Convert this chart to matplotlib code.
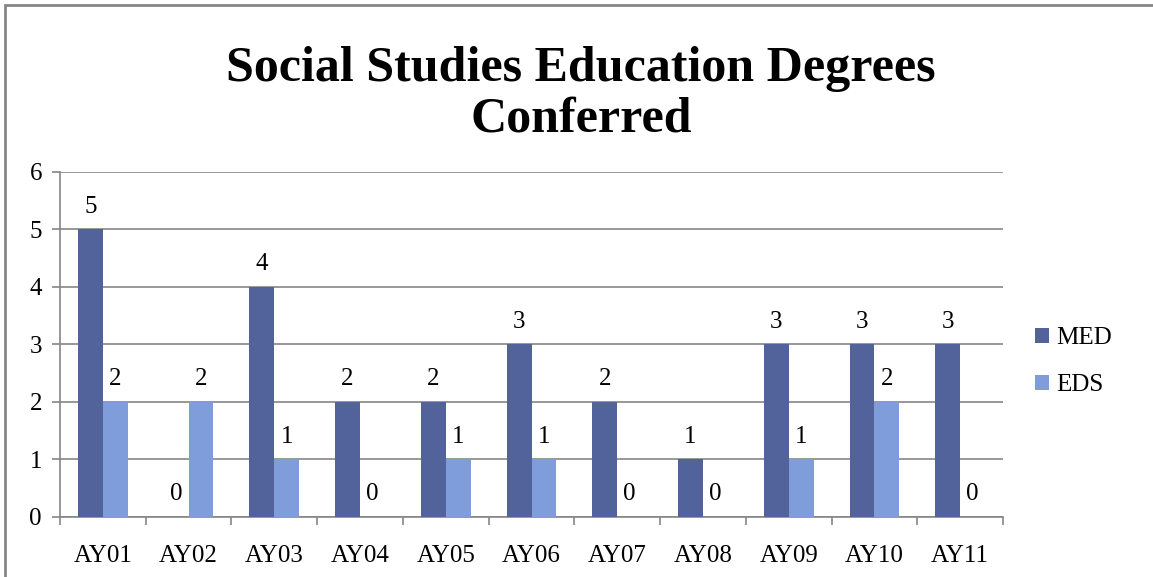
import numpy as np
import matplotlib.pyplot as plt
from matplotlib.patches import Rectangle

years = ["AY01", "AY02", "AY03", "AY04", "AY05", "AY06", "AY07", "AY08", "AY09", "AY10", "AY11"]
med = [5, 0, 4, 2, 2, 3, 2, 1, 3, 3, 3]
eds = [2, 2, 1, 0, 1, 1, 0, 0, 1, 2, 0]

plt.rcParams["font.family"] = ["Liberation Serif", "DejaVu Serif"]

fig = plt.figure(figsize=(11.53, 5.77), dpi=100)
ax = fig.add_axes([0.052, 0.104, 0.818, 0.598])

x = np.arange(len(years))
w = 0.29
grid_col = "#868686"
med_col = "#52639C"
eds_col = "#7E9DDA"
fs = 18

b1 = ax.bar(x - w / 2, med, w, color=med_col, label="MED", zorder=3)
b2 = ax.bar(x + w / 2, eds, w, color=eds_col, label="EDS", zorder=3)

for bars, vals in ((b1, med), (b2, eds)):
    for rect, v in zip(bars, vals):
        ax.text(rect.get_x() + rect.get_width() / 2, v + 0.2, str(v),
                ha="center", va="bottom", fontsize=fs)

ax.set_xlim(-0.5, len(years) - 0.5)
ax.set_ylim(0, 6)
ax.set_yticks(range(7))
ax.set_xticks(x)
ax.set_xticklabels(years)
ax.set_xticks(np.arange(-0.5, len(years)), minor=True)
ax.tick_params(axis="x", which="major", length=0, pad=20, labelsize=fs)
ax.tick_params(axis="x", which="minor", length=6, width=1.2, color=grid_col)
ax.tick_params(axis="y", length=6, width=1.2, color=grid_col, pad=7, labelsize=fs)
ax.yaxis.grid(True, color=grid_col, lw=1.2, zorder=0)
for s in ("top", "right"):
    ax.spines[s].set_visible(False)
for s in ("left", "bottom"):
    ax.spines[s].set_color(grid_col)
    ax.spines[s].set_linewidth(1.2)

ax.legend(loc="center left", bbox_to_anchor=(1.01, 0.45), frameon=False,
          fontsize=fs, handlelength=0.55, handleheight=0.55,
          handletextpad=0.3, labelspacing=1.0)

fig.suptitle("Social Studies Education Degrees\nConferred", x=0.504, y=0.92,
             fontsize=36, fontweight="bold", linespacing=1.12)

# chart frame: only top and left edges fall inside the image
fig.patches.append(Rectangle((0.0045, -0.05), 1.1, 1.0413, transform=fig.transFigure,
                             fill=False, edgecolor=grid_col, lw=2))

fig.savefig("out.png", dpi=100)
